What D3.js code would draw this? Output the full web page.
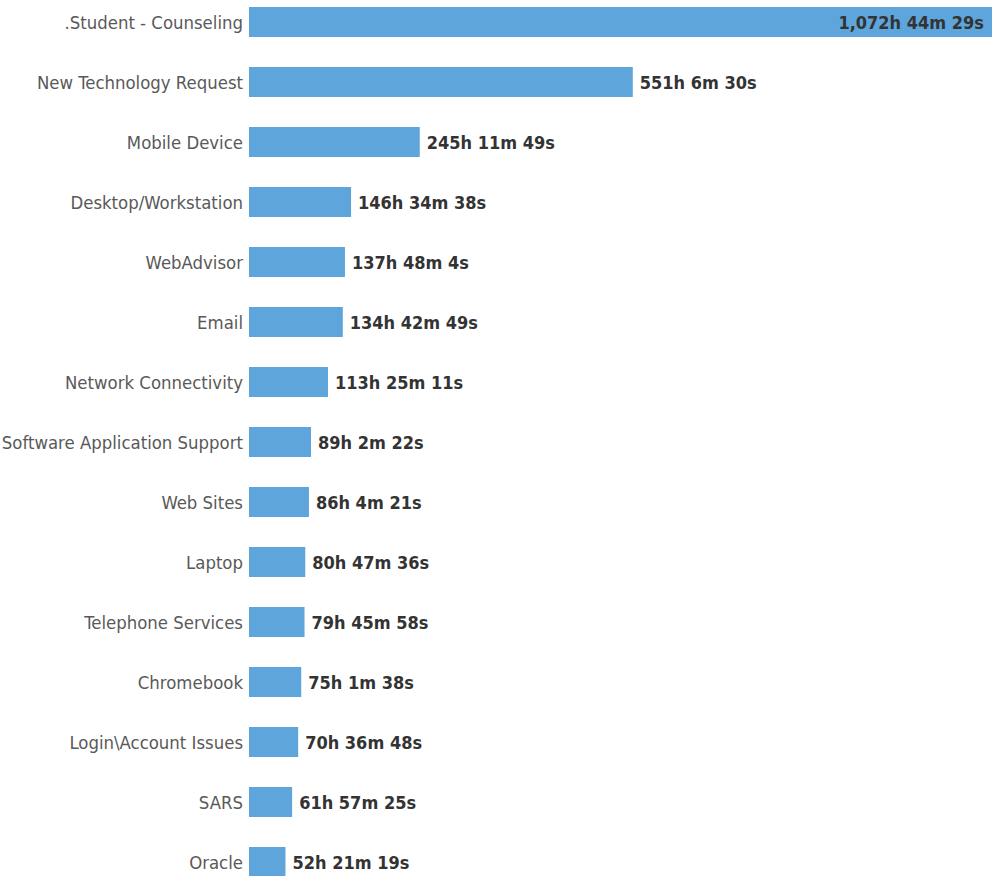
<!DOCTYPE html>
<html>
<head>
<meta charset="utf-8">
<script src="https://cdn.jsdelivr.net/npm/d3@7"></script>
<style>
  html, body { margin: 0; padding: 0; background: #fff; }
  svg { display: block; }
</style>
</head>
<body>
<script>
// Time spent per ticket category
const categories = [
  ".Student - Counseling", "New Technology Request", "Mobile Device",
  "Desktop/Workstation", "WebAdvisor", "Email", "Network Connectivity",
  "Software Application Support", "Web Sites", "Laptop",
  "Telephone Services", "Chromebook", "Login\\Account Issues", "SARS", "Oracle"
];
// durations as [hours, minutes, seconds]
const durations = [
  [1072, 44, 29], [551, 6, 30], [245, 11, 49], [146, 34, 38], [137, 48, 4],
  [134, 42, 49], [113, 25, 11], [89, 2, 22], [86, 4, 21], [80, 47, 36],
  [79, 45, 58], [75, 1, 38], [70, 36, 48], [61, 57, 25], [52, 21, 19]
];

const W = 992, H = 876;
const left = 249, pitch = 60, barH = 30, top0 = 7;

const data = categories.map((c, i) => {
  const [h, m, s] = durations[i];
  return { name: c, h, m, s, hours: h + m / 60 + s / 3600 };
});

const fmtH = d3.format(",");
const label = d => `${fmtH(d.h)}h ${d.m}m ${d.s}s`;

const svg = d3.select("body").append("svg")
  .attr("width", W).attr("height", H);

const x = d3.scaleLinear()
  .domain([0, d3.max(data, d => d.hours)])
  .range([0, 747]);

const y = d3.scaleBand()
  .domain(categories)
  .range([top0 - (pitch - barH) / 2, top0 - (pitch - barH) / 2 + pitch * categories.length])
  .paddingInner(0.5).paddingOuter(0.25);

const g = svg.append("g").attr("transform", `translate(${left},0)`);

g.selectAll("rect.bar").data(data).join("rect")
  .attr("class", "bar")
  .attr("x", 0)
  .attr("y", d => y(d.name))
  .attr("width", d => x(d.hours))
  .attr("height", y.bandwidth())
  .attr("fill", "#5ea5db");

// category names
svg.append("g").selectAll("text").data(data).join("text")
  .attr("x", left - 6)
  .attr("y", d => y(d.name) + y.bandwidth() / 2 + 0.5)
  .attr("dy", "0.35em")
  .attr("text-anchor", "end")
  .attr("font-family", "'DejaVu Sans Condensed', 'DejaVu Sans', sans-serif")
  .attr("font-size", 18.4)
  .attr("fill", "#595959")
  .text(d => d.name);

// value labels: outside the bar, or inside when the bar reaches the edge
const room = W - left;
g.selectAll("text.val").data(data).join("text")
  .attr("class", "val")
  .attr("y", d => y(d.name) + y.bandwidth() / 2 + 0.5)
  .attr("dy", "0.35em")
  .attr("font-family", "'DejaVu Sans Condensed', 'DejaVu Sans', sans-serif")
  .attr("font-weight", "bold")
  .attr("font-size", 18)
  .attr("fill", "#333")
  .each(function (d) {
    const inside = x(d.hours) > room - 160;
    d3.select(this)
      .attr("x", inside ? Math.min(x(d.hours), room) - 8 : x(d.hours) + 7)
      .attr("text-anchor", inside ? "end" : "start");
  })
  .text(label);
</script>
</body>
</html>
